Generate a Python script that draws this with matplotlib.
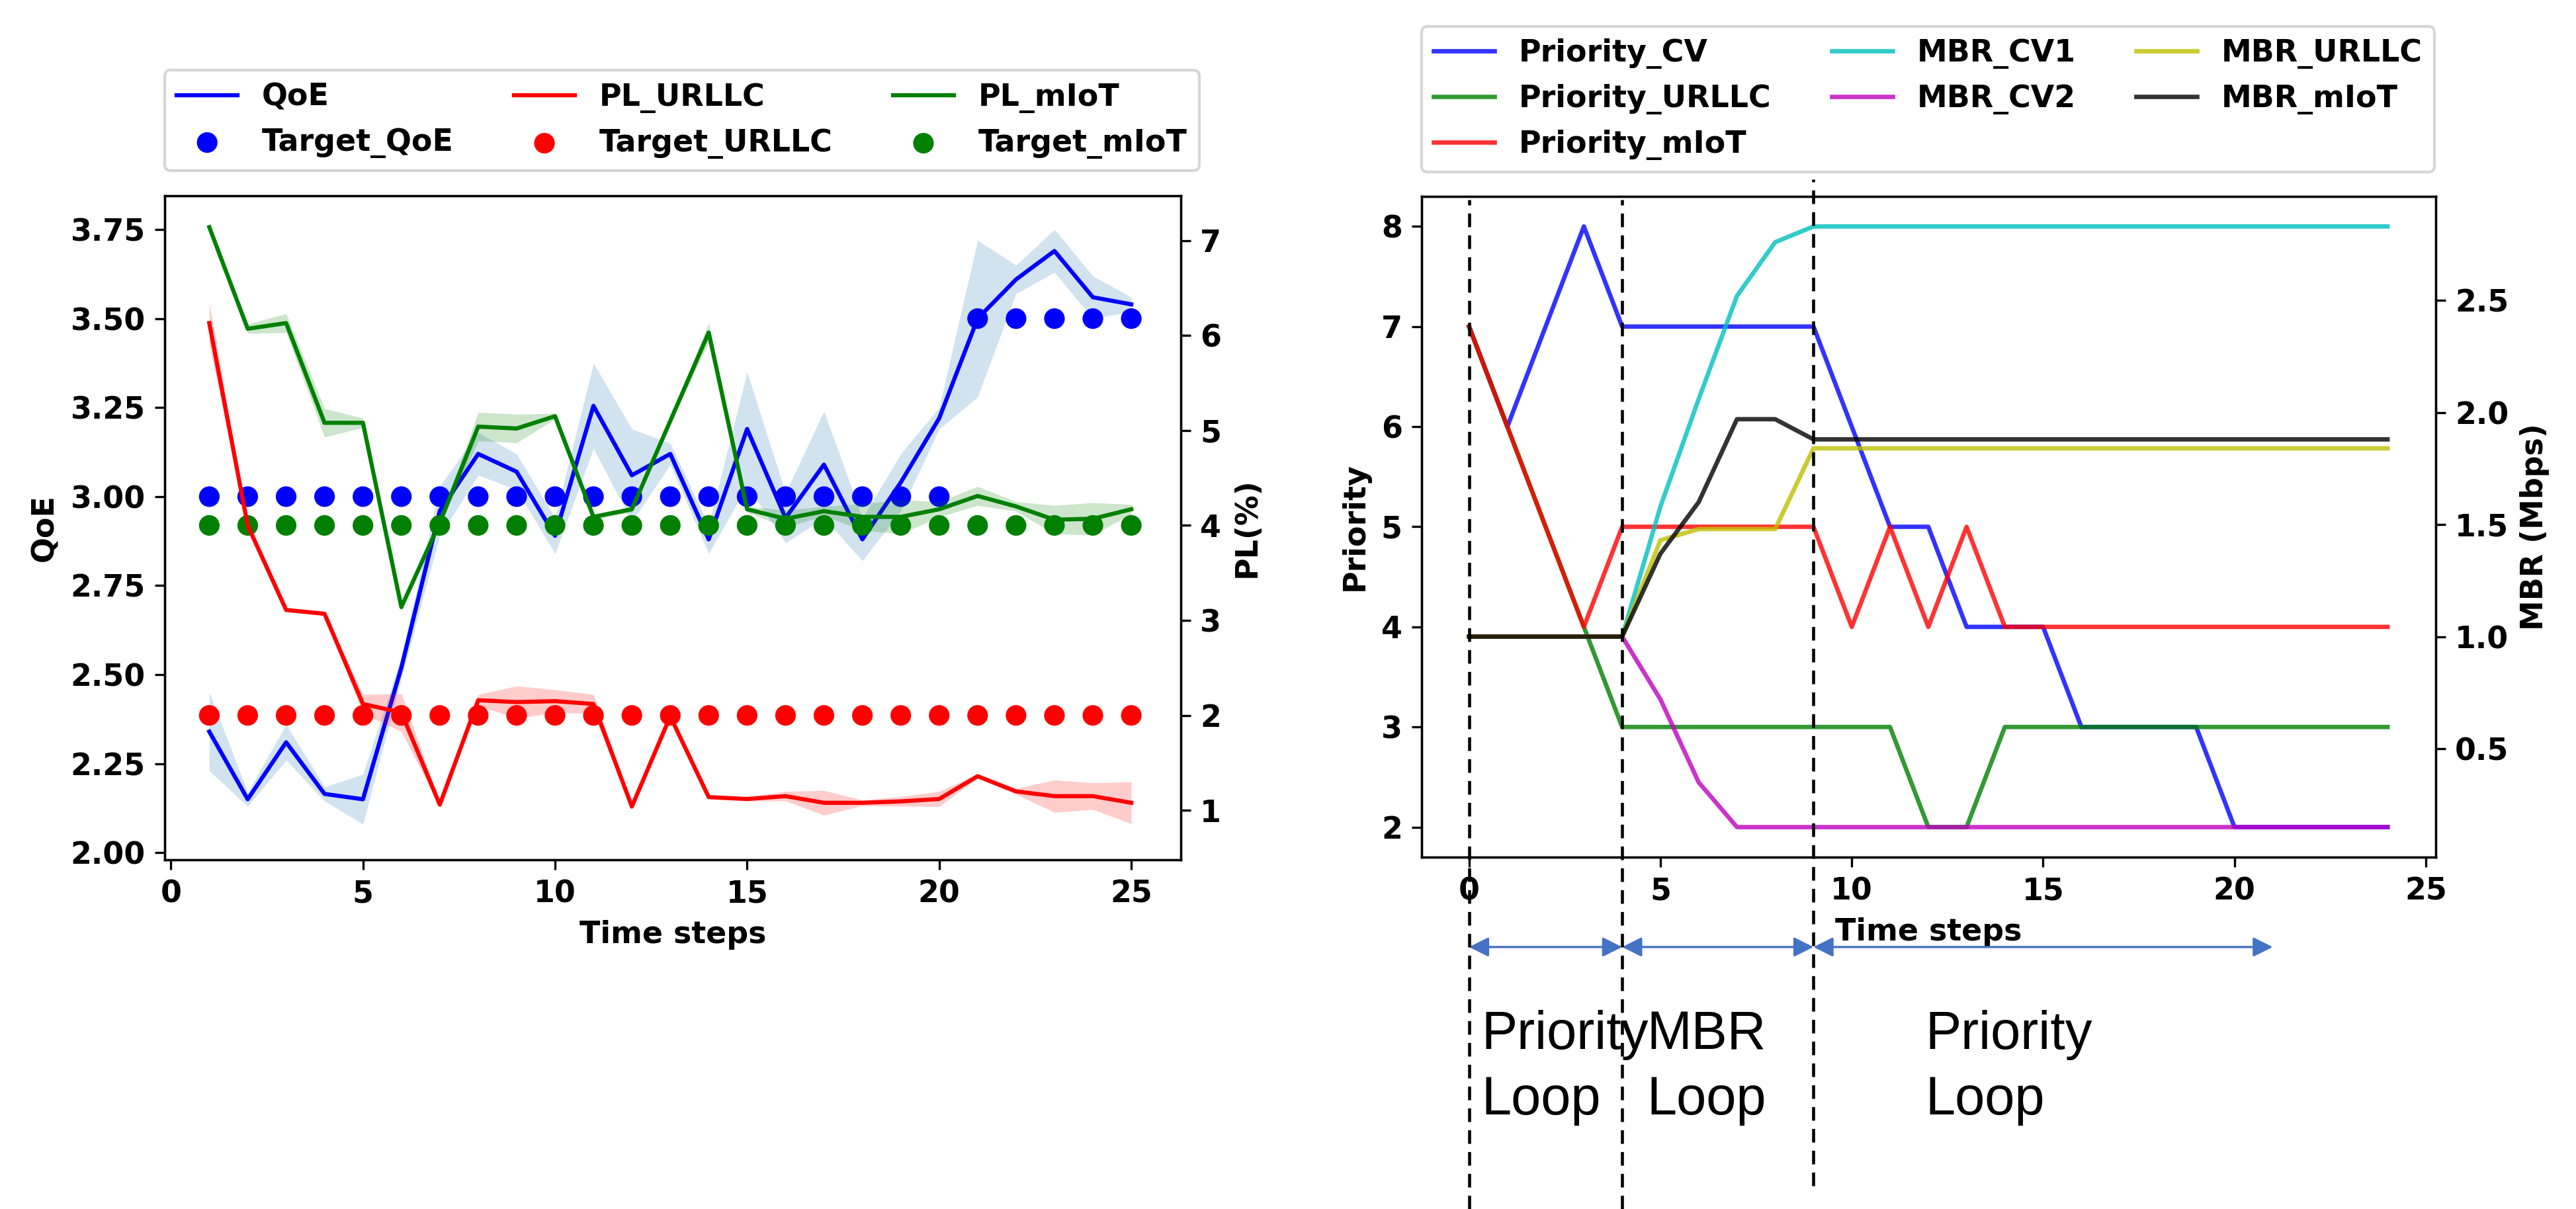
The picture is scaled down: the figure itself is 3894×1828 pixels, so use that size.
import matplotlib
matplotlib.use('Agg')
import matplotlib.pyplot as plt
import numpy as np

# ---- left panel data: QoE and packet loss over time steps 1..25 ----
steps = list(range(1, 26))
qoe = [2.34, 2.15, 2.31, 2.165, 2.15, 2.52, 2.96, 3.12, 3.07, 2.89, 3.255, 3.06, 3.12,
       2.88, 3.19, 2.94, 3.09, 2.88, 3.04, 3.22, 3.50, 3.61, 3.69, 3.56, 3.54]
qoe_std = [0.11, 0.02, 0.05, 0.02, 0.07, 0.03, 0.07, 0.06, 0.05, 0.05, 0.12, 0.13, 0.03,
           0.04, 0.16, 0.07, 0.15, 0.06, 0.08, 0.03, 0.22, 0.04, 0.06, 0.06, 0.02]
pl_urllc = [6.13, 4.0, 3.11, 3.07, 2.12, 2.03, 1.06, 2.16, 2.14, 2.15, 2.12, 1.04, 1.99,
            1.14, 1.12, 1.15, 1.08, 1.08, 1.095, 1.12, 1.36, 1.2, 1.15, 1.15, 1.08]
pl_urllc_std = [0.22, 0.02, 0.02, 0.02, 0.1, 0.2, 0.02, 0.06, 0.17, 0.12, 0.1, 0.02, 0.02,
                0.02, 0.02, 0.05, 0.13, 0.03, 0.05, 0.08, 0.02, 0.03, 0.17, 0.14, 0.22]
pl_miot = [7.14, 6.07, 6.13, 5.08, 5.08, 3.14, 4.03, 5.04, 5.02, 5.15, 4.09, 4.17, 5.1,
           6.03, 4.17, 4.07, 4.15, 4.09, 4.09, 4.17, 4.31, 4.2, 4.06, 4.07, 4.17]
pl_miot_std = [0.02, 0.05, 0.1, 0.15, 0.05, 0.03, 0.03, 0.15, 0.15, 0.03, 0.03, 0.03, 0.03,
               0.1, 0.03, 0.09, 0.05, 0.14, 0.18, 0.08, 0.1, 0.05, 0.15, 0.17, 0.05]
target_qoe = [3.0, 3.0, 3.0, 3.0, 3.0, 3.0, 3.0, 3.0, 3.0, 3.0, 3.0, 3.0, 3.0,
              3.0, 3.0, 3.0, 3.0, 3.0, 3.0, 3.0, 3.5, 3.5, 3.5, 3.5, 3.5]
target_urllc = [2, 2, 2, 2, 2, 2, 2, 2, 2, 2, 2, 2, 2, 2, 2, 2, 2, 2, 2, 2, 2, 2, 2, 2, 2]
target_miot = [4, 4, 4, 4, 4, 4, 4, 4, 4, 4, 4, 4, 4, 4, 4, 4, 4, 4, 4, 4, 4, 4, 4, 4, 4]

# ---- right panel data: priorities and MBR over time steps 0..24 ----
t = list(range(0, 25))
priority_cv = [7, 6, 7, 8, 7, 7, 7, 7, 7, 7, 6, 5, 5, 4, 4, 4, 3, 3, 3, 3, 2, 2, 2, 2, 2]
priority_urllc = [7, 6, 5, 4, 3, 3, 3, 3, 3, 3, 3, 3, 2, 2, 3, 3, 3, 3, 3, 3, 3, 3, 3, 3, 3]
priority_miot = [7, 6, 5, 4, 5, 5, 5, 5, 5, 5, 4, 5, 4, 5, 4, 4, 4, 4, 4, 4, 4, 4, 4, 4, 4]
mbr_cv1 = [1.0, 1.0, 1.0, 1.0, 1.0, 1.58, 2.06, 2.52, 2.76, 2.83, 2.83, 2.83, 2.83,
           2.83, 2.83, 2.83, 2.83, 2.83, 2.83, 2.83, 2.83, 2.83, 2.83, 2.83, 2.83]
mbr_cv2 = [1.0, 1.0, 1.0, 1.0, 1.0, 0.72, 0.35, 0.15, 0.15, 0.15, 0.15, 0.15, 0.15,
           0.15, 0.15, 0.15, 0.15, 0.15, 0.15, 0.15, 0.15, 0.15, 0.15, 0.15, 0.15]
mbr_urllc = [1.0, 1.0, 1.0, 1.0, 1.0, 1.43, 1.48, 1.48, 1.48, 1.84, 1.84, 1.84, 1.84,
             1.84, 1.84, 1.84, 1.84, 1.84, 1.84, 1.84, 1.84, 1.84, 1.84, 1.84, 1.84]
mbr_miot = [1.0, 1.0, 1.0, 1.0, 1.0, 1.37, 1.6, 1.97, 1.97, 1.88, 1.88, 1.88, 1.88,
            1.88, 1.88, 1.88, 1.88, 1.88, 1.88, 1.88, 1.88, 1.88, 1.88, 1.88, 1.88]

# loop boundaries and labels drawn below the right panel
loop_bounds = [0, 4, 9]
loop_spans = [(0, 4), (4, 9), (9, 21)]
loop_names = [('Priority', 'Loop', 0.33), ('MBR', 'Loop', 4.64), ('Priority', 'Loop', 11.92)]

plt.rcParams['font.family'] = 'DejaVu Sans'
plt.rcParams['font.weight'] = 'bold'
plt.rcParams['axes.labelweight'] = 'bold'
plt.rcParams['font.size'] = 11

fig = plt.figure(figsize=(3895 / 300, 1828 / 300), dpi=300)

# ================= left panel =================
ax1 = fig.add_axes([0.06393, 0.28884, 0.39435, 0.54923])
ax1b = ax1.twinx()

q = np.array(qoe)
qs = np.array(qoe_std)
l_qoe, = ax1.plot(steps, qoe, color='blue', lw=1.5, label='QoE')
ax1.fill_between(steps, q - qs, q + qs, color='C0', alpha=0.2, lw=0)
s_qoe = ax1.scatter(steps, target_qoe, s=56, color='blue', edgecolors='none', label='Target_QoE')

pu = np.array(pl_urllc)
pus = np.array(pl_urllc_std)
pm = np.array(pl_miot)
pms = np.array(pl_miot_std)
l_url, = ax1b.plot(steps, pl_urllc, color='red', lw=1.5, label='PL_URLLC')
ax1b.fill_between(steps, pu - pus, pu + pus, color='red', alpha=0.2, lw=0)
l_miot, = ax1b.plot(steps, pl_miot, color='green', lw=1.5, label='PL_mIoT')
ax1b.fill_between(steps, pm - pms, pm + pms, color='green', alpha=0.2, lw=0)
s_url = ax1b.scatter(steps, target_urllc, s=56, color='red', edgecolors='none', label='Target_URLLC')
s_miot = ax1b.scatter(steps, target_miot, s=56, color='green', edgecolors='none', label='Target_mIoT')

ax1.set_xlim(-0.16, 26.29)
ax1.set_ylim(1.98, 3.845)
ax1b.set_ylim(0.48, 7.47)
ax1.set_xticks([0, 5, 10, 15, 20, 25])
ax1.set_yticks([2.0, 2.25, 2.5, 2.75, 3.0, 3.25, 3.5, 3.75])
ax1b.set_yticks([1, 2, 3, 4, 5, 6, 7])
ax1.set_xlabel('Time steps')
ax1.set_ylabel('QoE')
ax1b.set_ylabel('PL(%)')

h_left = [l_qoe, s_qoe, l_url, s_url, l_miot, s_miot]
ax1b.legend(h_left, [h.get_label() for h in h_left], ncol=3, loc='lower left',
            bbox_to_anchor=(0, 1.038), borderaxespad=0)

# ================= right panel =================
ax2 = fig.add_axes([0.55173, 0.29103, 0.39358, 0.54650])
ax2b = ax2.twinx()

h_right = []
h_right += ax2.plot(t, priority_cv, color='b', alpha=0.8, lw=1.6, label='Priority_CV')
h_right += ax2.plot(t, priority_urllc, color='g', alpha=0.8, lw=1.6, label='Priority_URLLC')
h_right += ax2.plot(t, priority_miot, color='r', alpha=0.8, lw=1.6, label='Priority_mIoT')
h_right += ax2b.plot(t, mbr_cv1, color='c', alpha=0.8, lw=1.6, label='MBR_CV1')
h_right += ax2b.plot(t, mbr_cv2, color='m', alpha=0.8, lw=1.6, label='MBR_CV2')
h_right += ax2b.plot(t, mbr_urllc, color='y', alpha=0.8, lw=1.6, label='MBR_URLLC')
h_right += ax2b.plot(t, mbr_miot, color='k', alpha=0.8, lw=1.6, label='MBR_mIoT')

ax2.set_xlim(-1.24, 25.26)
ax2.set_ylim(1.7, 8.3)
ax2b.set_ylim(0.016, 2.964)
ax2.set_xticks([0, 5, 10, 15, 20, 25])
ax2.set_yticks([2, 3, 4, 5, 6, 7, 8])
ax2b.set_yticks([0.5, 1.0, 1.5, 2.0, 2.5])
ax2.set_xlabel('Time steps')
ax2.set_ylabel('Priority')
ax2b.set_ylabel('MBR (Mbps)')

ax2b.legend(h_right, [h.get_label() for h in h_right], ncol=3, loc='lower left',
            bbox_to_anchor=(0, 1.037), borderaxespad=0)

# dashed loop boundaries running past the axes
v_extent = {0: (-0.533, 0.995), 4: (-0.533, 0.995), 9: (-0.497, 1.026)}
for xb in loop_bounds:
    lo, hi = v_extent[xb]
    ax2b.axvline(xb, ymin=lo, ymax=hi, color='black', lw=1.1,
                 linestyle=(0, (4.5, 2.7)), clip_on=False, zorder=10)

# double-headed arrows for each loop
xt = ax2b.get_xaxis_transform()
for a, b in loop_spans:
    ax2b.annotate('', xy=(b, -0.136), xytext=(a, -0.136), xycoords=xt, textcoords=xt,
                  annotation_clip=False,
                  arrowprops=dict(arrowstyle='<|-|>', color='#4472C4', lw=0.8,
                                  mutation_scale=15, shrinkA=0, shrinkB=0))

for word1, word2, xpos in loop_names:
    ax2b.text(xpos, -0.2903, word1, transform=xt, fontsize=19.5, fontweight='normal',
              family='Liberation Sans', va='baseline', ha='left', clip_on=False)
    ax2b.text(xpos, -0.3894, word2, transform=xt, fontsize=19.5, fontweight='normal',
              family='Liberation Sans', va='baseline', ha='left', clip_on=False)

fig.savefig('out.png', dpi=300)
